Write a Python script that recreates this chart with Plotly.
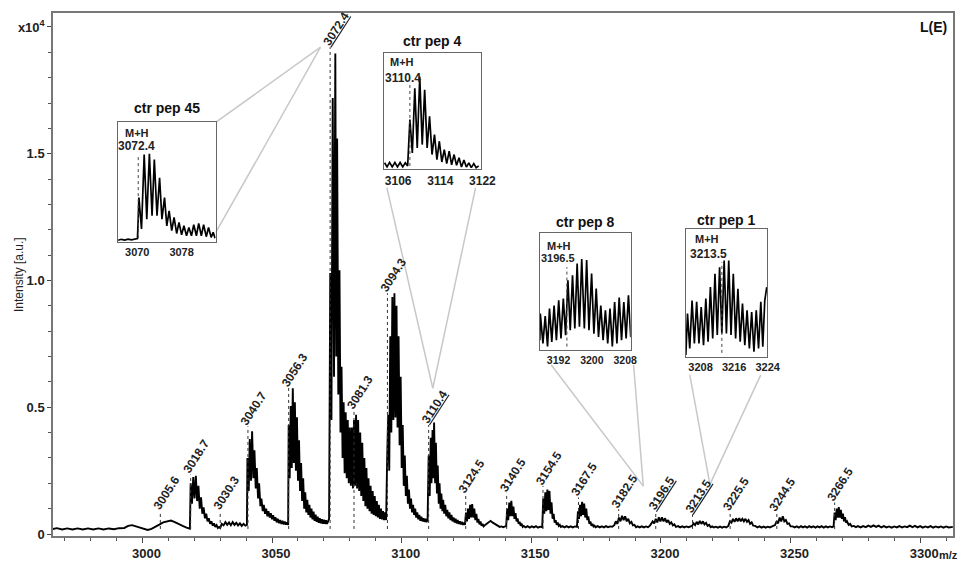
import plotly.graph_objects as go

# ---------------- main spectrum (m/z ; intensity in 1e4 a.u.) ----------------
base_left_mz = [2965.5, 2967, 2969, 2971, 2973, 2975, 2977, 2979, 2981, 2983, 2985, 2987, 2989, 2991,
                2993, 2994.5, 2996, 2997.5, 2999, 3000.5, 3002, 3003.5, 3005, 3006.5, 3008, 3009.5,
                3011, 3012.5, 3014, 3015.5, 3017, 3018.3]
base_left_int = [0.020, 0.023, 0.018, 0.022, 0.018, 0.022, 0.018, 0.022, 0.018, 0.022, 0.018, 0.022, 0.019, 0.023,
                 0.024, 0.032, 0.035, 0.030, 0.026, 0.020, 0.016, 0.020, 0.030, 0.037, 0.046, 0.050,
                 0.053, 0.047, 0.041, 0.032, 0.025, 0.021]

c3018_mz = [3018.6, 3019.1, 3019.6, 3020.1, 3020.6, 3021.1, 3021.6, 3022.1, 3022.6, 3023.1, 3023.6, 3024.1,
            3024.6, 3025.1, 3025.6, 3026.1, 3026.6, 3027.1, 3027.6, 3028.1, 3028.6, 3029.1, 3029.6]
c3018_int = [0.20, 0.12, 0.225, 0.14, 0.23, 0.13, 0.19, 0.10, 0.145, 0.08, 0.105, 0.062,
             0.08, 0.05, 0.062, 0.04, 0.05, 0.033, 0.042, 0.028, 0.035, 0.024, 0.028]

c3030_mz = [3030.0, 3030.6, 3031.3, 3032.0, 3032.7, 3033.4, 3034.1, 3034.8, 3035.5, 3036.2, 3036.9, 3037.6,
            3038.3, 3039.0, 3039.7, 3040.3]
c3030_int = [0.024, 0.040, 0.034, 0.047, 0.036, 0.046, 0.035, 0.047, 0.036, 0.044, 0.034, 0.042,
             0.032, 0.040, 0.033, 0.036]

c3040_mz = [3040.5, 3041.0, 3041.4, 3041.9, 3042.3, 3042.8, 3043.2, 3043.7, 3044.1, 3044.6, 3045.0, 3045.5,
            3045.9, 3046.4, 3046.8, 3047.3, 3047.7, 3048.2, 3048.6, 3049.1, 3049.5, 3050.0, 3050.4, 3050.9,
            3051.3, 3051.8, 3052.2, 3052.7, 3053.1, 3053.6, 3054.0, 3054.5, 3054.9, 3055.4, 3055.8, 3056.2]
c3040_int = [0.30, 0.17, 0.375, 0.21, 0.405, 0.22, 0.33, 0.18, 0.26, 0.14, 0.20, 0.11,
             0.14, 0.09, 0.115, 0.08, 0.10, 0.07, 0.09, 0.065, 0.082, 0.058, 0.074, 0.052,
             0.066, 0.046, 0.060, 0.043, 0.055, 0.040, 0.052, 0.038, 0.049, 0.037, 0.046, 0.036]

c3056_mz = [3056.4, 3056.8, 3057.2, 3057.6, 3058.0, 3058.4, 3058.8, 3059.2, 3059.6, 3060.0, 3060.4, 3060.8,
            3061.2, 3061.6, 3062.0, 3062.4, 3062.8, 3063.2, 3063.6, 3064.0, 3064.4, 3064.8, 3065.2, 3065.6,
            3066.0, 3066.4, 3066.8, 3067.2, 3067.6, 3068.0, 3068.4, 3068.8, 3069.2, 3069.6, 3070.0, 3070.4,
            3070.8, 3071.2, 3071.6]
c3056_int = [0.43, 0.22, 0.505, 0.26, 0.575, 0.28, 0.52, 0.25, 0.46, 0.21, 0.37, 0.17,
             0.28, 0.13, 0.22, 0.10, 0.165, 0.085, 0.135, 0.075, 0.115, 0.065, 0.10, 0.058,
             0.088, 0.052, 0.076, 0.048, 0.068, 0.044, 0.062, 0.042, 0.058, 0.040, 0.056, 0.040,
             0.054, 0.040, 0.055]

c3072_mz = [3072.0, 3072.45, 3072.9, 3073.4, 3073.9, 3074.4, 3074.75, 3075.1, 3075.55, 3076.0, 3076.4,
            3076.8, 3077.2, 3077.6, 3078.0, 3078.4, 3078.8, 3079.2, 3079.6, 3080.0, 3080.4]
c3072_int = [0.06, 1.03, 0.45, 1.72, 0.62, 1.895, 0.70, 1.56, 0.55, 1.04, 0.40,
             0.66, 0.30, 0.52, 0.24, 0.48, 0.22, 0.45, 0.20, 0.42, 0.19]

c3081_mz = [3080.8, 3081.2, 3081.6, 3082.0, 3082.4, 3082.8, 3083.2, 3083.6, 3084.0, 3084.4, 3084.8, 3085.2,
            3085.6, 3086.0, 3086.4, 3086.8, 3087.2, 3087.6, 3088.0, 3088.4, 3088.8, 3089.2, 3089.6, 3090.0,
            3090.4, 3090.8, 3091.2, 3091.6, 3092.0, 3092.4, 3092.8, 3093.2, 3093.6, 3094.0]
c3081_int = [0.42, 0.18, 0.45, 0.19, 0.47, 0.18, 0.45, 0.17, 0.40, 0.15, 0.36, 0.13,
             0.30, 0.11, 0.26, 0.10, 0.22, 0.09, 0.19, 0.08, 0.17, 0.075, 0.15, 0.07,
             0.13, 0.065, 0.115, 0.06, 0.10, 0.058, 0.09, 0.055, 0.085, 0.055]

c3094_mz = [3094.4, 3094.8, 3095.2, 3095.6, 3096.0, 3096.4, 3096.8, 3097.2, 3097.6, 3098.0, 3098.4, 3098.8,
            3099.2, 3099.6, 3100.0, 3100.4, 3100.8, 3101.2, 3101.6, 3102.0, 3102.4, 3102.8, 3103.2, 3103.6,
            3104.0, 3104.4, 3104.8, 3105.2, 3105.6, 3106.0, 3106.4, 3106.8, 3107.2, 3107.6, 3108.0, 3108.4,
            3108.8, 3109.2, 3109.6, 3110.0]
c3094_int = [0.30, 0.47, 0.25, 0.78, 0.40, 0.935, 0.45, 0.95, 0.46, 0.90, 0.42, 0.78,
             0.35, 0.62, 0.26, 0.43, 0.19, 0.31, 0.15, 0.23, 0.12, 0.175, 0.10, 0.14,
             0.085, 0.115, 0.075, 0.10, 0.065, 0.085, 0.058, 0.075, 0.052, 0.068, 0.05, 0.062,
             0.048, 0.06, 0.047, 0.055]

c3110_mz = [3110.4, 3110.8, 3111.2, 3111.5, 3111.9, 3112.2, 3112.5, 3112.9, 3113.2, 3113.6, 3113.9, 3114.3,
            3114.6, 3115.0, 3115.3, 3115.7, 3116.0, 3116.4, 3116.8, 3117.2, 3117.6, 3118.0, 3118.4, 3118.8,
            3119.2, 3119.6, 3120.0, 3120.4, 3120.8, 3121.2, 3121.6, 3122.0, 3122.4, 3122.8, 3123.2, 3123.6,
            3124.0]
c3110_int = [0.31, 0.15, 0.38, 0.20, 0.41, 0.22, 0.44, 0.20, 0.36, 0.16, 0.27, 0.12,
             0.20, 0.10, 0.16, 0.09, 0.135, 0.08, 0.115, 0.07, 0.095, 0.062, 0.085, 0.055,
             0.075, 0.05, 0.065, 0.045, 0.06, 0.042, 0.055, 0.04, 0.05, 0.038, 0.048, 0.036,
             0.045]

c3124_mz = [3124.4, 3124.8, 3125.2, 3125.6, 3126.0, 3126.4, 3126.8, 3127.2, 3127.6, 3128.0, 3128.4, 3128.8,
            3129.2, 3129.6, 3130.0, 3130.4, 3130.8, 3131.2, 3131.6,
            3132.2, 3132.9, 3133.6, 3134.3, 3135.0, 3135.7, 3136.4, 3137.1, 3137.8, 3138.5, 3139.2, 3139.9]
c3124_int = [0.036, 0.085, 0.05, 0.10, 0.06, 0.115, 0.065, 0.118, 0.065, 0.10, 0.055, 0.08,
             0.045, 0.06, 0.038, 0.05, 0.032, 0.04, 0.03,
             0.036, 0.042, 0.048, 0.052, 0.046, 0.042, 0.036, 0.032, 0.028, 0.03, 0.027, 0.03]

c3140_mz = [3140.3, 3140.7, 3141.1, 3141.5, 3141.9, 3142.3, 3142.7, 3143.1, 3143.5, 3143.9, 3144.3, 3144.7,
            3145.1, 3145.5, 3145.9, 3146.3, 3146.7, 3147.1,
            3147.8, 3148.6, 3149.4, 3150.2, 3151.0, 3151.8, 3152.6, 3153.4, 3154.2]
c3140_int = [0.03, 0.10, 0.055, 0.124, 0.07, 0.131, 0.07, 0.108, 0.06, 0.082, 0.05, 0.062,
             0.04, 0.048, 0.033, 0.038, 0.028, 0.032,
             0.026, 0.031, 0.025, 0.030, 0.026, 0.031, 0.025, 0.029, 0.027]

c3154_mz = [3154.6, 3155.0, 3155.4, 3155.8, 3156.2, 3156.6, 3157.0, 3157.4, 3157.8, 3158.2, 3158.6, 3159.0,
            3159.4, 3159.8, 3160.2, 3160.6, 3161.0, 3161.4,
            3162.0, 3162.8, 3163.6, 3164.4, 3165.2, 3166.0, 3166.8, 3167.6]
c3154_int = [0.14, 0.08, 0.165, 0.09, 0.175, 0.095, 0.17, 0.08, 0.125, 0.06, 0.08, 0.045,
             0.055, 0.036, 0.045, 0.032, 0.036, 0.028,
             0.031, 0.026, 0.031, 0.026, 0.030, 0.026, 0.030, 0.028]

c3167_mz = [3168.0, 3168.4, 3168.8, 3169.2, 3169.6, 3170.0, 3170.4, 3170.8, 3171.2, 3171.6, 3172.0, 3172.4,
            3172.8, 3173.2, 3173.6, 3174.0, 3174.4, 3174.8,
            3175.6, 3176.4, 3177.2, 3178.0, 3178.8, 3179.6, 3180.4, 3181.2]
c3167_int = [0.09, 0.06, 0.115, 0.07, 0.127, 0.075, 0.12, 0.065, 0.10, 0.055, 0.07, 0.04,
             0.05, 0.033, 0.04, 0.03, 0.033, 0.027,
             0.031, 0.026, 0.030, 0.026, 0.031, 0.027, 0.030, 0.029]

c3182_mz = [3182.0, 3182.6, 3183.2, 3183.8, 3184.4, 3185.0, 3185.6, 3186.2, 3186.8, 3187.4, 3188.0, 3188.6,
            3189.2, 3189.8, 3190.4, 3191.0,
            3191.8, 3192.6, 3193.4, 3194.2, 3195.0, 3195.6]
c3182_int = [0.035, 0.05, 0.04, 0.065, 0.05, 0.072, 0.055, 0.07, 0.05, 0.06, 0.042, 0.048,
             0.034, 0.036, 0.027, 0.03,
             0.026, 0.030, 0.026, 0.030, 0.027, 0.031]

c3196_mz = [3196.2, 3196.8, 3197.4, 3198.0, 3198.6, 3199.2, 3199.8, 3200.4, 3201.0, 3201.6, 3202.2, 3202.8,
            3203.4, 3204.0, 3204.6, 3205.2, 3205.8, 3206.6,
            3207.4, 3208.2, 3209.0, 3209.8, 3210.6, 3211.4]
c3196_int = [0.04, 0.05, 0.042, 0.06, 0.046, 0.066, 0.05, 0.066, 0.05, 0.062, 0.046, 0.055,
             0.04, 0.046, 0.034, 0.038, 0.028, 0.031,
             0.026, 0.030, 0.026, 0.030, 0.027, 0.031]

c3213_mz = [3212.0, 3212.6, 3213.2, 3213.8, 3214.4, 3215.0, 3215.6, 3216.2, 3216.8, 3217.4, 3218.0, 3218.6,
            3219.2, 3219.8, 3220.4,
            3221.2, 3222.0, 3222.8, 3223.6, 3224.4, 3225.2, 3226.0]
c3213_int = [0.032, 0.042, 0.035, 0.048, 0.038, 0.052, 0.04, 0.05, 0.038, 0.044, 0.032, 0.036,
             0.027, 0.03, 0.026,
             0.029, 0.025, 0.029, 0.025, 0.029, 0.026, 0.032]

c3225_mz = [3226.6, 3227.2, 3227.8, 3228.4, 3229.0, 3229.6, 3230.2, 3230.8, 3231.4, 3232.0, 3232.6, 3233.2,
            3233.8, 3234.4, 3235.0, 3235.6, 3236.4, 3237.2,
            3238.0, 3238.8, 3239.6, 3240.4, 3241.2, 3242.0, 3242.8, 3243.4]
c3225_int = [0.05, 0.045, 0.06, 0.048, 0.062, 0.05, 0.062, 0.05, 0.06, 0.05, 0.06, 0.048,
             0.055, 0.04, 0.046, 0.033, 0.032, 0.026,
             0.030, 0.025, 0.029, 0.025, 0.029, 0.026, 0.030, 0.031]

c3244_mz = [3244.0, 3244.6, 3245.2, 3245.8, 3246.4, 3247.0, 3247.6, 3248.2, 3248.8, 3249.4, 3250.0, 3250.8,
            3251.6, 3252.4, 3253.2, 3254.0, 3254.8, 3255.6, 3256.4, 3257.2, 3258.0, 3258.8, 3259.6, 3260.4,
            3261.2, 3262.0, 3262.8, 3263.6, 3264.4, 3265.2, 3266.0, 3266.6]
c3244_int = [0.035, 0.05, 0.042, 0.065, 0.05, 0.07, 0.05, 0.055, 0.04, 0.042, 0.03, 0.03,
             0.026, 0.030, 0.025, 0.031, 0.026, 0.030, 0.025, 0.031, 0.026, 0.030, 0.025, 0.030,
             0.026, 0.031, 0.025, 0.030, 0.026, 0.030, 0.027, 0.03]

c3266_mz = [3267.0, 3267.4, 3267.8, 3268.2, 3268.6, 3269.0, 3269.4, 3269.8, 3270.2, 3270.6, 3271.0, 3271.4,
            3271.8, 3272.4, 3273.0, 3273.6, 3274.4, 3275.2]
c3266_int = [0.085, 0.055, 0.10, 0.065, 0.106, 0.065, 0.095, 0.06, 0.08, 0.05, 0.066, 0.045,
             0.05, 0.036, 0.04, 0.03, 0.032, 0.027]

base_right_mz = [3276, 3277, 3278, 3279, 3280, 3281, 3282, 3283, 3284, 3285, 3286, 3287, 3288, 3289, 3290,
                 3291, 3292, 3293, 3294, 3295, 3296, 3297, 3298, 3299, 3300, 3301, 3302, 3303, 3304, 3305,
                 3306, 3307, 3308, 3309, 3310, 3311, 3312.6]
base_right_int = [0.031, 0.026, 0.031, 0.027, 0.033, 0.028, 0.034, 0.028, 0.033, 0.026, 0.031, 0.026, 0.030,
                  0.025, 0.030, 0.026, 0.031, 0.026, 0.030, 0.027, 0.033, 0.027, 0.032, 0.026, 0.031, 0.025,
                  0.030, 0.026, 0.031, 0.025, 0.030, 0.026, 0.030, 0.025, 0.030, 0.026, 0.028]

segments = [(base_left_mz, base_left_int), (c3018_mz, c3018_int), (c3030_mz, c3030_int),
            (c3040_mz, c3040_int), (c3056_mz, c3056_int), (c3072_mz, c3072_int), (c3081_mz, c3081_int),
            (c3094_mz, c3094_int), (c3110_mz, c3110_int), (c3124_mz, c3124_int), (c3140_mz, c3140_int),
            (c3154_mz, c3154_int), (c3167_mz, c3167_int), (c3182_mz, c3182_int), (c3196_mz, c3196_int),
            (c3213_mz, c3213_int), (c3225_mz, c3225_int), (c3244_mz, c3244_int), (c3266_mz, c3266_int),
            (base_right_mz, base_right_int)]

# ---------------- peak annotations ----------------
label_text = ["3005.6", "3018.7", "3030.3", "3040.7", "3056.3", "3072.4", "3081.3", "3094.3", "3110.4",
              "3124.5", "3140.5", "3154.5", "3167.5", "3182.5", "3196.5", "3213.5", "3225.5", "3244.5",
              "3266.5"]
label_pos = [3006.9, 3018.6, 3030.0, 3040.7, 3056.4, 3072.4, 3081.6, 3094.5, 3110.4, 3124.7, 3140.5,
             3154.5, 3168.2, 3183.7, 3198.0, 3212.2, 3226.7, 3244.7, 3267.0]
label_top = [0.091, 0.235, 0.091, 0.425, 0.576, 1.92, 0.49, 0.95, 0.43, 0.157, 0.163, 0.19, 0.144,
             0.098, 0.091, 0.078, 0.085, 0.085, 0.124]
label_underlined = ["3072.4", "3110.4", "3196.5", "3213.5"]

# ---------------- insets (relative intensity) ----------------
in45_mz = [3066.9, 3067.5, 3068.1, 3068.7, 3069.3, 3069.9, 3070.4, 3070.54, 3070.66, 3071.13, 3071.61,
           3072.08, 3072.55, 3073.03, 3073.44, 3073.92, 3074.39, 3074.81, 3075.28, 3075.69, 3076.11,
           3076.58, 3077.0, 3077.47, 3077.89, 3078.36, 3078.78, 3079.25, 3079.67, 3080.14, 3080.55,
           3081.03, 3081.44, 3081.92, 3082.33, 3082.81, 3083.22, 3083.69, 3084.05, 3084.4]
in45_int = [0.012, 0.02, 0.014, 0.022, 0.016, 0.024, 0.026, 0.2, 0.37, 0.106, 0.731,
            0.189, 0.736, 0.217, 0.689, 0.217, 0.536, 0.189, 0.369, 0.133, 0.258,
            0.092, 0.203, 0.069, 0.161, 0.058, 0.133, 0.05, 0.119, 0.05, 0.142,
            0.05, 0.153, 0.05, 0.142, 0.042, 0.119, 0.036, 0.078, 0.03]

in4_mz = [3103.8, 3104.27, 3104.75, 3105.25, 3105.76, 3106.25, 3106.75, 3107.25, 3107.74, 3108.18,
          3108.61, 3109.07, 3109.54, 3110.0, 3110.48, 3110.95, 3111.41, 3111.88, 3112.34, 3112.81,
          3113.28, 3113.74, 3114.2, 3114.67, 3115.14, 3115.6, 3116.07, 3116.53, 3117.0, 3117.47,
          3117.94, 3118.4, 3118.87, 3119.34, 3119.8, 3120.27, 3120.74, 3121.2, 3121.67]
in4_int = [0.057, 0.022, 0.06, 0.022, 0.06, 0.022, 0.06, 0.022, 0.057, 0.03,
           0.43, 0.142, 0.70, 0.185, 0.80, 0.214, 0.686, 0.185, 0.457, 0.128,
           0.30, 0.085, 0.243, 0.064, 0.17, 0.05, 0.157, 0.04, 0.128, 0.035,
           0.10, 0.02, 0.08, 0.02, 0.057, 0.015, 0.05, 0.015, 0.03]

in8_mz = [3187.98, 3188.10, 3188.73, 3189.28, 3189.84, 3190.31, 3190.86, 3191.41, 3191.97, 3192.52,
          3193.07, 3193.63, 3194.18, 3194.73, 3195.29, 3195.84, 3196.39, 3196.95, 3197.50, 3198.05,
          3198.68, 3199.23, 3199.79, 3200.42, 3200.97, 3201.53, 3202.08, 3202.63, 3203.18, 3203.74,
          3204.29, 3204.84, 3205.40, 3205.95, 3206.50, 3207.05, 3207.61, 3208.16, 3208.71, 3209.27,
          3209.82]
in8_int = [0.085, 0.313, 0.057, 0.29, 0.03, 0.355, 0.07, 0.38, 0.085, 0.426,
           0.10, 0.44, 0.128, 0.597, 0.17, 0.64, 0.185, 0.74, 0.20, 0.78,
           0.185, 0.77, 0.17, 0.654, 0.14, 0.526, 0.113, 0.38, 0.085, 0.34,
           0.057, 0.355, 0.03, 0.41, 0.057, 0.45, 0.085, 0.41, 0.10, 0.469,
           0.11]

in1_mz = [3204.96, 3205.35, 3205.89, 3206.44, 3206.99, 3207.53, 3208.08, 3208.62, 3209.17, 3209.72,
          3210.26, 3210.81, 3211.36, 3211.90, 3212.45, 3213.00, 3213.54, 3214.09, 3214.63, 3215.18,
          3215.73, 3216.27, 3216.82, 3217.37, 3217.91, 3218.46, 3219.01, 3219.55, 3220.10, 3220.65,
          3221.19, 3221.74, 3222.29, 3222.83, 3223.30, 3223.77, 3224.24]
in1_int = [0.013, 0.338, 0.065, 0.44, 0.104, 0.43, 0.104, 0.39, 0.09, 0.455,
           0.117, 0.545, 0.143, 0.65, 0.17, 0.70, 0.182, 0.753, 0.182, 0.753,
           0.17, 0.65, 0.143, 0.533, 0.117, 0.416, 0.09, 0.364, 0.065, 0.35,
           0.039, 0.364, 0.065, 0.43, 0.078, 0.44, 0.545]

inset_titles = ["ctr pep 45", "ctr pep 4", "ctr pep 8", "ctr pep 1"]
inset_mh = ["3072.4", "3110.4", "3196.5", "3213.5"]
inset_mh_pos = [3070.54, 3108.61, 3194.49, 3213.54]
inset_mh_top = [0.717, 0.757, 0.71, 0.74]
inset_ticks = [[3070, 3078], [3106, 3114, 3122], [3192, 3200, 3208], [3208, 3216, 3224]]
# connector target points on the main spectrum (m/z, intensity)
connect_mz = [3068.7, 3112.0, 3193.2, 3218.9]
connect_int = [1.92, 0.575, 0.189, 0.196]

# ---------------- layout geometry (page pixels; page body has an 8px margin) ----------------
PAGE_OFF = 8
W, H = 972 - PAGE_OFF, 564 - PAGE_OFF
PL, PR, PT, PB = 53, 966, 11, 537          # plot area in page pixels
ML, MT = PL - PAGE_OFF, PT - PAGE_OFF
MR, MB = PAGE_OFF + W - PR, PAGE_OFF + H - PB
PW, PH = PR - PL, PB - PT
X0, X1 = 2965.5, 3312.66
Y0, Y1 = -0.0078, 2.055
FONT = "Liberation Sans, Arial, sans-serif"


def pxx(px):
    return (px - PL) / PW


def pxy(py):
    return (PB - py) / PH


def dx(m):
    return (m - X0) / (X1 - X0)


def dy(v):
    return (v - Y0) / (Y1 - Y0)


inset_dom_x = [[pxx(119), pxx(218)], [pxx(388.3), pxx(486.7)], [pxx(546.7), pxx(639)], [pxx(695), pxx(777.3)]]
inset_dom_y = [[pxy(241), pxy(121)], [pxy(168.3), pxy(51.7)], [pxy(350), pxy(232.5)], [pxy(356.7), pxy(228.3)]]
inset_range = [[3066.9, 3084.5], [3103.6, 3122.02], [3187.95, 3209.8], [3204.96, 3224.3]]
inset_data = [(in45_mz, in45_int), (in4_mz, in4_int), (in8_mz, in8_int), (in1_mz, in1_int)]
title_gap = [14, 12.7, 11.3, 9.3]
mh_off = [(6, 11, -1, 24), (5.7, 8.3, 0, 25), (6.3, 12.7, 0, 24.4), (8.3, 9.7, 3, 24.7)]
tick_fs = [11, 12, 10.5, 11]
mh_fs = [12, 12, 11, 12]
conn_src = [[(218, 121), (218, 232)], [(391.7, 186.7), (481.7, 186.7)],
            [(558.5, 365), (642, 365)], [(699, 375), (771, 375)]]

fig = go.Figure()
mz_all, int_all = [], []
for m, v in segments:
    mz_all += m
    int_all += v
fig.add_trace(go.Scatter(x=mz_all, y=int_all, mode="lines", line=dict(color="black", width=1.9),
                         hoverinfo="skip", showlegend=False))

shapes, annotations = [], []

for t, p, top in zip(label_text, label_pos, label_top):
    shapes.append(dict(type="line", xref="x", yref="y", x0=p, x1=p, y0=0.02, y1=top,
                       line=dict(color="#333", width=1, dash="dot")))
    txt = "<u>%s</u>" % t if t in label_underlined else t
    annotations.append(dict(x=p, y=top, xref="x", yref="y", text=txt, showarrow=False, textangle=-57,
                            xanchor="center", yanchor="bottom", xshift=6, yshift=-4,
                            font=dict(family=FONT, size=12, color="#222", weight="bold")))

for i in range(4):
    n = i + 2
    xa, ya = "x%d" % n, "y%d" % n
    m, v = inset_data[i]
    fig.add_trace(go.Scatter(x=m, y=v, xaxis=xa, yaxis=ya, mode="lines",
                             line=dict(color="black", width=1.7), hoverinfo="skip", showlegend=False))
    fig.update_layout(**{
        "xaxis%d" % n: dict(domain=inset_dom_x[i], range=inset_range[i], anchor=ya, showgrid=False,
                            zeroline=False, showline=True, mirror=True, linecolor="#666", linewidth=1.2,
                            ticks="", tickvals=inset_ticks[i], ticklabelshift=2,
                            tickfont=dict(family=FONT, size=tick_fs[i], color="#222", weight="bold")),
        "yaxis%d" % n: dict(domain=inset_dom_y[i], range=[0, 1], anchor=xa, showgrid=False,
                            zeroline=False, showline=True, mirror=True, linecolor="#666", linewidth=1.2,
                            showticklabels=False, ticks=""),
    })
    shapes.append(dict(type="line", xref=xa, yref=ya, x0=inset_mh_pos[i], x1=inset_mh_pos[i],
                       y0=0.03, y1=inset_mh_top[i], line=dict(color="#444", width=1, dash="dot")))
    annotations.append(dict(xref=xa + " domain", yref=ya + " domain", x=0.5, y=1, yshift=title_gap[i],
                            xanchor="center", yanchor="middle", text=inset_titles[i], showarrow=False,
                            font=dict(family=FONT, size=14, color="#111", weight="bold")))
    ox1, oy1, ox2, oy2 = mh_off[i]
    annotations.append(dict(xref=xa + " domain", yref=ya + " domain", x=0, y=1, xshift=ox1 - 1,
                            yshift=-oy1, xanchor="left", yanchor="middle", text="M+H", showarrow=False,
                            font=dict(family=FONT, size=11, color="#222", weight="bold")))
    annotations.append(dict(xref=xa + " domain", yref=ya + " domain", x=0, y=1, xshift=ox2 - 1,
                            yshift=-oy2, xanchor="left", yanchor="middle", text=inset_mh[i],
                            showarrow=False,
                            font=dict(family=FONT, size=mh_fs[i], color="#222", weight="bold")))
    tx, ty = dx(connect_mz[i]), dy(connect_int[i])
    for (sx, sy) in conn_src[i]:
        shapes.append(dict(type="line", xref="paper", yref="paper", x0=pxx(sx), y0=pxy(sy), x1=tx, y1=ty,
                           line=dict(color="#c8c8c8", width=1.5), layer="below"))

annotations.append(dict(xref="paper", yref="paper", x=pxx(962), y=pxy(25), xanchor="right",
                        yanchor="middle", text="L(E)", showarrow=False,
                        font=dict(family=FONT, size=14, color="#111", weight="bold")))
annotations.append(dict(xref="paper", yref="paper", x=pxx(961), y=pxy(556), xanchor="center",
                        yanchor="middle", text="m/z", showarrow=False,
                        font=dict(family=FONT, size=11, color="#222", weight="bold")))
annotations.append(dict(xref="paper", yref="paper", x=pxx(18), y=pxy(274), xanchor="center",
                        yanchor="middle", text="Intensity [a.u.]", showarrow=False, textangle=-90,
                        font=dict(family=FONT, size=12, color="#222")))

fig.update_layout(
    width=W, height=H, margin=dict(l=ML, r=MR, t=MT, b=MB, pad=0),
    paper_bgcolor="white", plot_bgcolor="white", showlegend=False,
    xaxis=dict(range=[X0, X1], domain=[0, 1], showgrid=False, zeroline=False, showline=True, mirror=True,
               linecolor="#777", linewidth=1.5, ticks="outside", ticklen=5, tickcolor="#444",
               tickvals=[3000, 3050, 3100, 3150, 3200, 3250, 3300], ticklabelshift=4,
               minor=dict(dtick=10, tick0=3000, ticks="outside", ticklen=3, tickcolor="#555"),
               tickfont=dict(family=FONT, size=13, color="#222", weight="bold")),
    yaxis=dict(range=[Y0, Y1], domain=[0, 1], showgrid=False, zeroline=False, showline=True, mirror=True,
               linecolor="#777", linewidth=1.5, ticks="outside", ticklen=4, tickcolor="#444",
               tickvals=[0, 0.5, 1.0, 1.5, 2.0], ticktext=["0", "0.5", "1.0", "1.5", "x10<sup>4</sup>"],
               minor=dict(dtick=0.1, tick0=0, ticks="outside", ticklen=3, tickcolor="#555"),
               tickfont=dict(family=FONT, size=13, color="#222", weight="bold")),
    shapes=shapes, annotations=annotations,
)

fig.write_html("out.html")
